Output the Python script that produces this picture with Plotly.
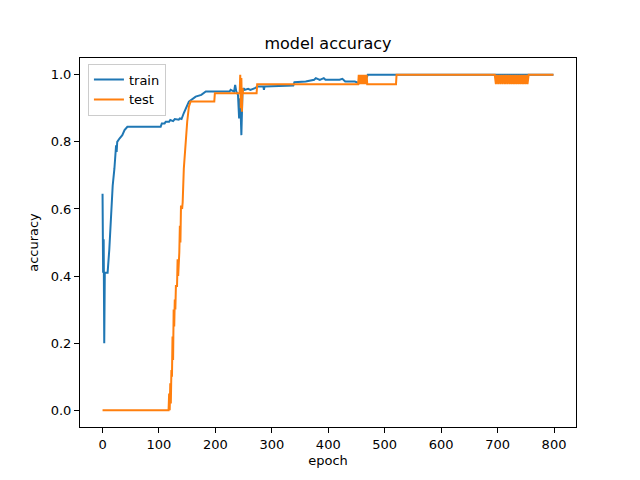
import plotly.graph_objects as go

# breakpoints (epoch, accuracy)
train_epoch = [0, 1, 2, 3, 4, 9, 12, 15, 18, 21, 24, 25, 26, 30, 35, 39, 44,
               103, 105, 110, 112, 118, 120, 125, 128, 135, 137, 140, 144, 153,
               165, 175, 183, 225, 227, 233, 235, 237, 240, 242, 244, 246, 248,
               250, 252, 258, 262, 270, 275, 285, 286, 287, 338, 340, 360, 375,
               378, 385, 392, 395, 420, 425, 430, 447, 455, 465, 470, 799]
train_acc = [0.645, 0.41, 0.51, 0.2, 0.41, 0.41, 0.48, 0.6, 0.67, 0.72, 0.79, 0.77, 0.8, 0.81, 0.82, 0.835, 0.845,
             0.845, 0.855, 0.855, 0.86, 0.86, 0.865, 0.862, 0.868, 0.866, 0.87, 0.868, 0.886, 0.92,
             0.935, 0.94, 0.95, 0.95, 0.955, 0.95, 0.97, 0.95, 0.94, 0.87, 0.93, 0.82, 0.95,
             0.96, 0.955, 0.958, 0.955, 0.96, 0.965, 0.965, 0.955, 0.965, 0.968, 0.978, 0.98, 0.985,
             0.99, 0.985, 0.99, 0.985, 0.985, 0.988, 0.98, 0.98, 0.975, 0.98, 1.0, 1.0]

test_epoch = [0, 117, 118, 119, 120, 121, 122, 123, 124, 125, 126, 127, 128, 129, 130,
              132, 133, 134, 136, 137, 138, 139, 141, 142, 144, 147, 150, 153, 156,
              198, 199, 243, 244, 245, 246, 247, 248, 249, 273, 274,
              453, 454, 455, 456, 457, 458, 459, 460, 461, 462, 463, 464, 465, 466, 467, 468, 469, 470,
              520, 521,
              695, 697, 699, 701, 703, 705, 707, 709, 711, 713, 715, 717, 719, 721, 723, 725,
              727, 729, 731, 733, 735, 737, 739, 741, 743, 745, 747, 749, 751, 753, 755, 757,
              799]
test_acc = [0.0, 0.0, 0.05, 0.0, 0.08, 0.02, 0.12, 0.1, 0.22, 0.15, 0.3, 0.25, 0.33, 0.3, 0.37,
            0.37, 0.45, 0.4, 0.47, 0.55, 0.5, 0.61, 0.6, 0.62, 0.72, 0.8, 0.86, 0.905, 0.92,
            0.92, 0.945, 0.945, 1.0, 0.9, 0.99, 0.89, 0.96, 0.945, 0.945, 0.972,
            0.972, 1.0, 0.972, 1.0, 0.972, 1.0, 0.972, 1.0, 0.972, 1.0, 0.972, 1.0, 0.972, 1.0, 0.972, 1.0, 0.972, 0.972,
            0.972, 1.0,
            1.0, 0.972, 1.0, 0.972, 1.0, 0.972, 1.0, 0.972, 1.0, 0.972, 1.0, 0.972, 1.0, 0.972, 1.0, 0.972,
            1.0, 0.972, 1.0, 0.972, 1.0, 0.972, 1.0, 0.972, 1.0, 0.972, 1.0, 0.972, 1.0, 0.972, 1.0, 1.0,
            1.0]

x_ticks = [0, 100, 200, 300, 400, 500, 600, 700, 800]
y_ticks = [0.0, 0.2, 0.4, 0.6, 0.8, 1.0]

fig = go.Figure()
fig.add_trace(go.Scatter(x=train_epoch, y=train_acc, mode='lines', name='train',
                         line=dict(color='#1f77b4', width=2)))
fig.add_trace(go.Scatter(x=test_epoch, y=test_acc, mode='lines', name='test',
                         line=dict(color='#ff7f0e', width=2)))

axis_style = dict(showline=True, linecolor='black', linewidth=1, mirror=True,
                  ticks='outside', ticklen=5, tickcolor='black', showgrid=False,
                  zeroline=False, tickfont=dict(size=13, color='black'))

# page body has an 8px margin, so the figure is 8px smaller on each axis
fig.update_layout(
    width=632, height=472,
    paper_bgcolor='white', plot_bgcolor='white',
    font=dict(family='DejaVu Sans', color='black', size=13),
    margin=dict(l=72, r=64, t=50, b=53),
    title=dict(text='model accuracy', x=0.5, xref='paper', y=1 - 35 / 472,
               yanchor='middle', font=dict(size=16)),
    xaxis=dict(range=[-39.95, 838.95], tickvals=x_ticks,
               title=dict(text='epoch', standoff=5, font=dict(size=13)), **axis_style),
    yaxis=dict(range=[-0.05, 1.05], tickvals=y_ticks, tickformat='.1f',
               title=dict(text='accuracy', standoff=9, font=dict(size=13)), **axis_style),
    legend=dict(x=0.016, y=0.985, xanchor='left', yanchor='top',
                bordercolor='#cccccc', borderwidth=1, bgcolor='rgba(255,255,255,0.8)',
                font=dict(size=13), tracegroupgap=0, itemwidth=30),
    showlegend=True,
)

fig.write_html("out.html")
